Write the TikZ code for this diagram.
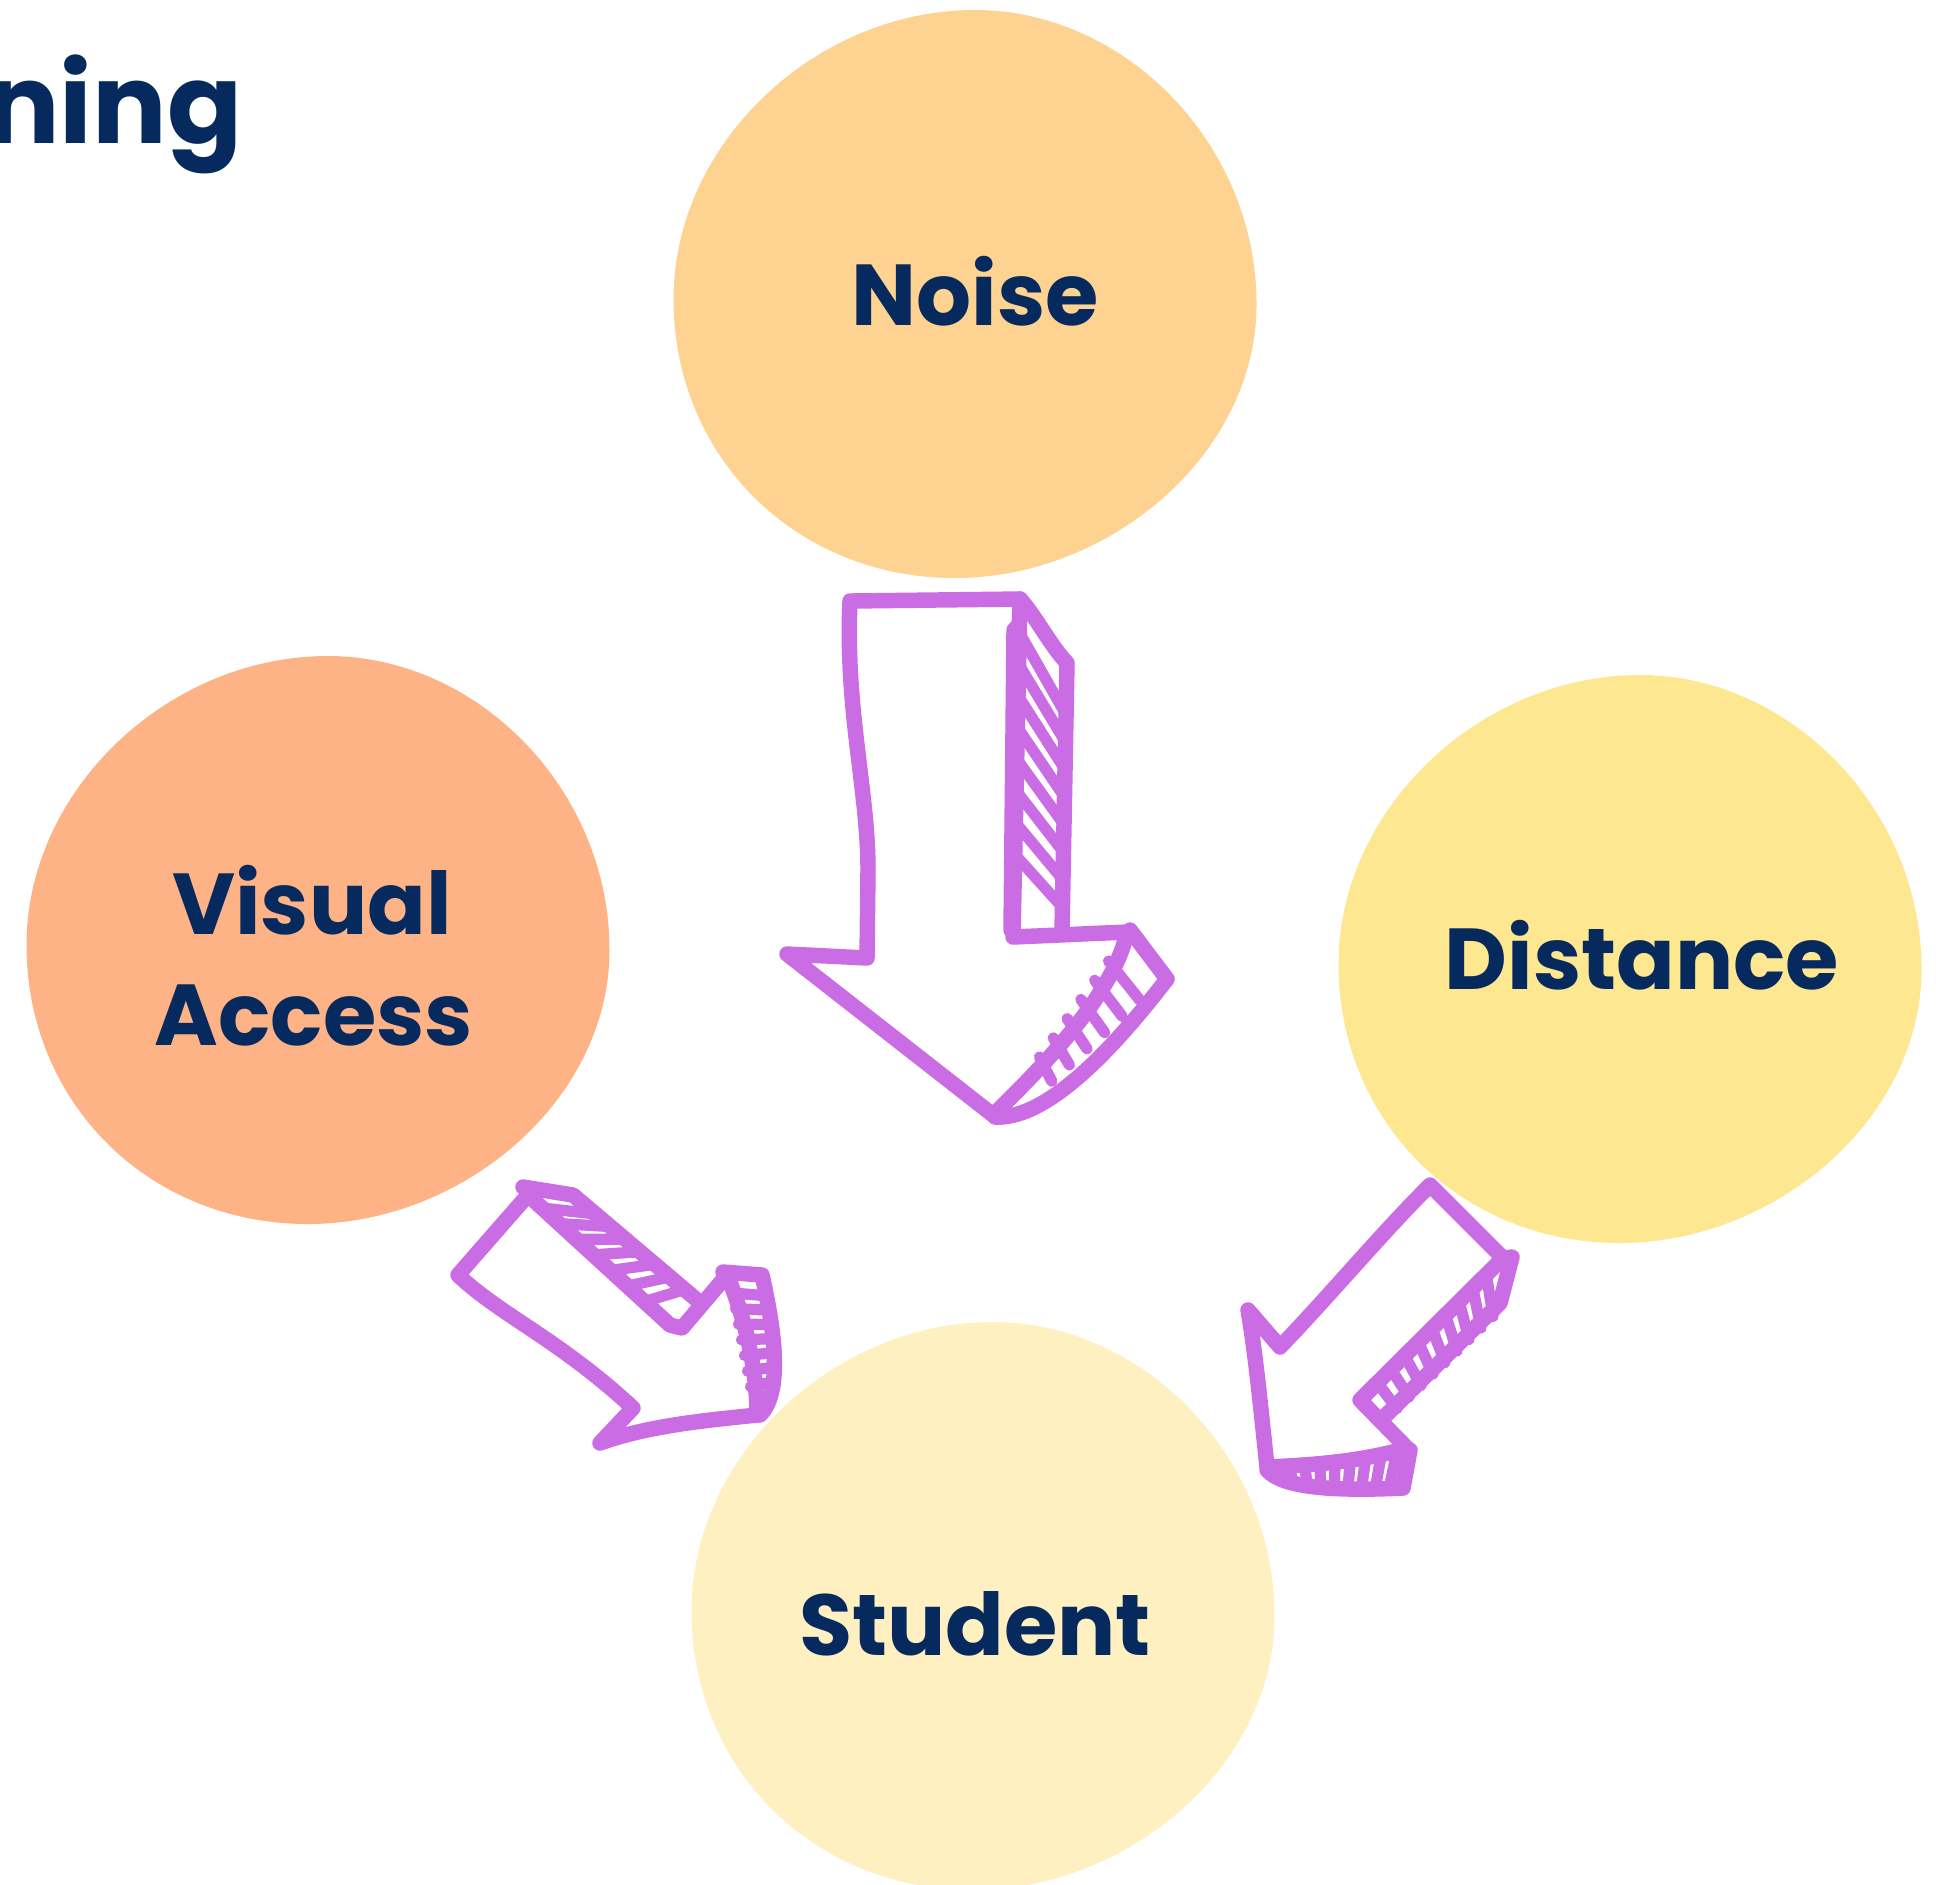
\documentclass[tikz,border=0pt]{standalone}
\usepackage{fontspec}
\setmainfont{Poppins}
\usepackage{tikz}
\usetikzlibrary{calc}

\definecolor{navy}{RGB}{6,42,94}
\definecolor{arrowpurple}{RGB}{202,108,228}
\definecolor{noiseorange}{RGB}{254,210,144}
\definecolor{accesssalmon}{RGB}{253,179,134}
\definecolor{distanceyellow}{RGB}{254,231,145}
\definecolor{studentcream}{RGB}{254,240,192}

\newcommand{\blob}[2]{%
  \begin{scope}[shift={#1}]
    \fill[#2] (0.10,2.84) .. controls (-1.5,2.84) and (-2.915,1.5) .. (-2.915,-0.05)
      .. controls (-2.915,-1.62) and (-1.7,-2.84) .. (-0.10,-2.84)
      .. controls (1.45,-2.84) and (2.915,-1.6) .. (2.915,-0.1)
      .. controls (2.915,1.5) and (1.6,2.84) .. (0.10,2.84) -- cycle;
  \end{scope}}

\begin{document}
\begin{tikzpicture}[line join=round,
                    blob text/.style={text=navy,inner sep=0pt,anchor=base,
                      font=\fontsize{24.6}{31}\selectfont\bfseries},
                    arrow line/.style={draw=arrowpurple,line width=4.4pt,line cap=round},
                    hatch line/.style={draw=arrowpurple,line width=3.2pt,line cap=round}]

  \clip (0,0) rectangle (19.44,-18.84);

  \blob{(9.65,-2.94)}{noiseorange}
  \blob{(3.18,-9.40)}{accesssalmon}
  \blob{(16.30,-9.59)}{distanceyellow}
  \blob{(9.83,-16.06)}{studentcream}

  \node[text=navy,inner sep=0pt,anchor=base east,
        font=\fontsize{31.5}{38}\selectfont\bfseries]
        (title) at (2.43,-1.43) {ning};

  \node[blob text] (noise) at (9.75,-3.25) {Noise};
  \node[blob text] (visual) at (3.12,-9.34) {Visual};
  \node[blob text] (access) at (3.14,-10.45) {Access};
  \node[blob text] (distance) at (16.42,-9.89) {Distance};
  \node[blob text] (student) at (9.75,-16.55) {Student};

  % arrow from noise
  \draw[arrow line] (8.50,-6.01) -- (10.20,-5.99) -- (10.13,-9.37) -- (11.27,-9.32)
    .. controls (11.15,-9.9) and (10.5,-10.6) .. (9.93,-11.15)
    -- (7.87,-9.54) -- (8.67,-9.58) -- (8.68,-8.7)
    .. controls (8.68,-7.9) and (8.45,-7.1) .. (8.50,-6.01) -- cycle;
  \draw[arrow line] (10.20,-5.99) .. controls (10.35,-6.15) and (10.5,-6.45) .. (10.67,-6.63)
    -- (10.62,-9.30);
  \draw[arrow line] (11.30,-9.30) -- (11.67,-9.79)
    .. controls (11.2,-10.4) and (10.5,-11.2) .. (9.95,-11.17);
  \draw[arrow line] (10.14,-6.3) -- (10.11,-9.3);
  \foreach \t [evaluate=\t as \u using \t+0.14] in {0,0.11,...,0.8}
    \draw[hatch line] ($(10.15,-6.25)!\t!(10.12,-9.2)$) -- ($(10.64,-6.75)!\u!(10.62,-9.3)$);
  \foreach \t [evaluate=\t as \u using \t+0.05] in {0.1,0.22,...,0.8}
    \draw[hatch line] ($(11.2,-9.45)!\t!(10.05,-11.05)$) -- ($(11.62,-9.8)!\u!(10.15,-11.15)$);

  % arrow from visual access
  \draw[arrow line] (5.28,-11.95) -- (4.58,-12.75)
    .. controls (5.0,-13.15) and (5.6,-13.4) .. (6.33,-14.08) -- (6.00,-14.43)
    .. controls (6.5,-14.25) and (7.1,-14.2) .. (7.57,-14.15)
    .. controls (7.57,-13.6) and (7.4,-13.05) .. (7.27,-12.75)
    -- (6.82,-13.28) -- (6.70,-13.25) -- cycle;
  \draw[arrow line] (5.23,-11.87) -- (5.73,-11.95) -- (6.97,-13.0);
  \draw[arrow line] (7.23,-12.72) -- (7.62,-12.75)
    .. controls (7.72,-13.2) and (7.85,-13.9) .. (7.60,-14.15);
  \foreach \t [evaluate=\t as \u using \t+0.08] in {0.1,0.22,...,0.9}
    \draw[hatch line] ($(5.28,-11.95)!\t!(6.70,-13.25)$) -- ($(5.73,-11.95)!\u!(6.97,-13.0)$);
  \foreach \t [evaluate=\t as \u using \t+0.03] in {0.1,0.22,...,0.9}
    \draw[hatch line] ($(7.30,-12.80)!\t!(7.55,-14.1)$) -- ($(7.64,-12.80)!\u!(7.72,-14.0)$);

  % arrow from distance
  \draw[arrow line] (14.30,-11.85) -- (15.03,-12.58) -- (13.60,-14.00) -- (14.07,-14.48)
    .. controls (13.6,-14.62) and (13.1,-14.65) .. (12.67,-14.67)
    .. controls (12.6,-14.0) and (12.55,-13.5) .. (12.48,-13.10)
    -- (12.80,-13.47) .. controls (13.3,-12.95) and (13.8,-12.35) .. (14.30,-11.85) -- cycle;
  \draw[arrow line] (15.03,-12.58) -- (15.12,-12.57) -- (15.0,-13.03) -- (13.83,-14.18);
  \draw[arrow line] (12.67,-14.70) .. controls (12.8,-14.85) and (13.2,-14.92) .. (14.03,-14.88)
    -- (14.10,-14.50);
  \foreach \t in {0.1,0.2,...,0.9}
    \draw[hatch line] ($(15.0,-12.62)!\t!(13.65,-13.98)$) -- ($(15.05,-13.05)!\t!(13.85,-14.2)$);
  \foreach \t [evaluate=\t as \u using \t+0.04] in {0.05,0.17,...,0.9}
    \draw[hatch line] ($(14.03,-14.52)!\t!(12.75,-14.67)$) -- ($(14.0,-14.86)!\u!(12.85,-14.82)$);

\end{tikzpicture}
\end{document}
